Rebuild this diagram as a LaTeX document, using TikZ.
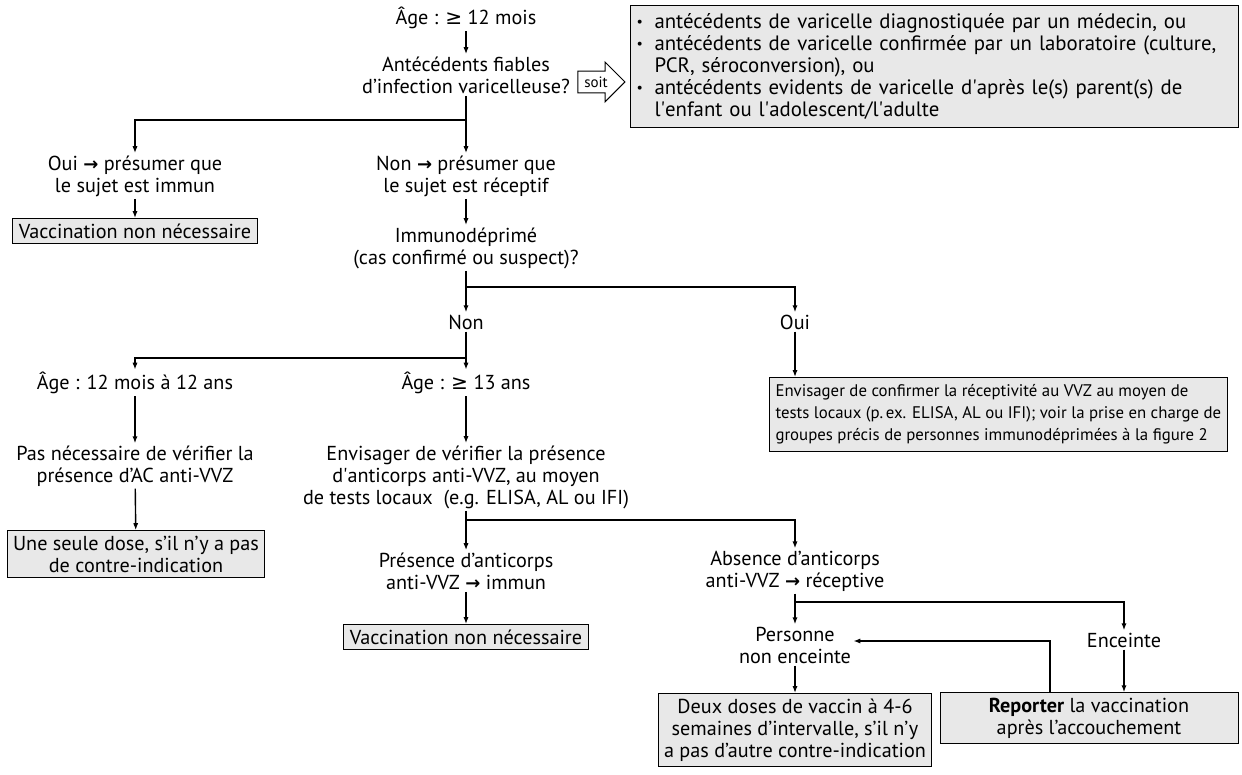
\documentclass[tikz,border=0pt]{standalone}
\usepackage{fontspec}
\setmainfont{PT Sans}
\newfontfamily\symfont{DejaVu Sans}
\usetikzlibrary{arrows.meta,shapes.arrows}
\definecolor{boxgray}{RGB}{232,232,232}
\newcommand{\bul}{\makebox[9pt][l]{\raisebox{0.15ex}{\scriptsize\textbullet}}}
\newcommand{\ra}{{\symfont\bfseries\small→}}

\begin{document}
\begin{tikzpicture}[x=0.5pt,y=-0.5pt]
	\tikzset{txt/.style={align=center,inner sep=1pt,font=\fontsize{10.1}{11}\selectfont}}
	\tikzset{box/.style={txt,draw,fill=boxgray,line width=0.5pt,inner xsep=3pt,inner ysep=2.5pt}}
	\tikzset{line/.style={line width=0.7pt,-{Latex[length=3.5pt,width=2.6pt]}}}
	\useasboundingbox (0,0) rectangle (1242,775);

	% vertices
	\node[txt] (age) at (466,18) {Âge : {\symfont≥} 12 mois};
	\node[txt] (hist) at (466,75) {Antécédents fiables\\d’infection varicelleuse?};
	\node[draw,single arrow,single arrow head extend=4.5pt,minimum height=23.5pt,inner sep=2.5pt,
		line width=0.5pt,font=\fontsize{7.5}{8}\selectfont] (soit) at (596,82) {soit};
	\node[box,anchor=north west,align=left,text width=298pt,minimum height=61pt,
		font=\fontsize{10.4}{11}\selectfont] (crit) at (630,5)
		{\bul antécédents de varicelle diagnostiquée par un médecin, ou\\
		 \bul antécédents de varicelle confirmée par un laboratoire (culture,\\
		 \hspace*{9pt}PCR, séroconversion), ou\\
		 \bul antécédents evidents de varicelle d\textquotesingle après le(s) parent(s) de\\
		 \hspace*{9pt}l\textquotesingle enfant ou l\textquotesingle adolescent/l\textquotesingle adulte};
	\node[txt] (oui1) at (135,176) {Oui \ra{} présumer que\\le sujet est immun};
	\node[txt] (non1) at (466,176) {Non \ra{} présumer que\\le sujet est réceptif};
	\node[box] (vnn1) at (135,231) {Vaccination non nécessaire};
	\node[txt] (immuno) at (466,248) {Immunodéprimé\\(cas confirmé ou suspect)?};
	\node[txt] (non2) at (466,322) {Non};
	\node[txt] (oui2) at (795,322) {Oui};
	\node[txt] (age2) at (135,383) {Âge : 12 mois à 12 ans};
	\node[txt] (age3) at (466,383) {Âge : {\symfont≥} 13 ans};
	\node[box,align=left,anchor=north west,inner ysep=3.5pt,font=\fontsize{8.4}{11}\selectfont] (confirm) at (769,377)
		{Envisager de confirmer la réceptivité au VVZ au moyen de\\
		 tests locaux (p.\,ex. ELISA, AL ou IFI); voir la prise en charge de\\
		 groupes précis de personnes immunodéprimées à la figure 2};
	\node[txt] (pasnec) at (135,466) {Pas nécessaire de vérifier la\\présence d’AC anti-VVZ};
	\node[txt] (envis) at (466,477) {Envisager de vérifier la présence\\d\textquotesingle anticorps anti-VVZ, au moyen\\de tests locaux \ (e.g. ELISA, AL ou IFI)};
	\node[box] (seule) at (136,554) {Une seule dose, s’il n’y a pas\\de contre-indication};
	\node[txt] (pres) at (466,571) {Présence d’anticorps\\anti-VVZ \ra{} immun};
	\node[txt] (abs) at (795,571) {Absence d’anticorps\\anti-VVZ \ra{} réceptive};
	\node[box] (vnn2) at (466,637) {Vaccination non nécessaire};
	\node[txt] (pers) at (795,645) {Personne\\non enceinte};
	\node[txt] (enc) at (1124,640) {Enceinte};
	\node[box,anchor=north] (deux) at (795,693) {Deux doses de vaccin à 4-6\\semaines d’intervalle, s’il n’y\\a pas d’autre contre-indication};
	\node[box,minimum width=149pt] (rep) at (1089,718) {\textbf{Reporter} la vaccination\\après l’accouchement};

	% junctions
	\coordinate (j1) at (466,120);
	\coordinate (j2) at (466,287);
	\coordinate (j3) at (466,358);
	\coordinate (j4) at (466,520);
	\coordinate (j5) at (795,602);
	\coordinate (fb) at (1050,641);

	% edges
	\draw[line] (age) -- (hist);
	\draw[line] (hist) -- (non1);
	\draw[line] (j1) -| (oui1);
	\draw[line] (oui1) -- (vnn1);
	\draw[line] (non1) -- (immuno);
	\draw[line] (immuno) -- (non2);
	\draw[line] (j2) -| (oui2);
	\draw[line] (oui2) -- (oui2 |- confirm.north);
	\draw[line] (non2) -- (age3);
	\draw[line] (j3) -| (age2);
	\draw[line] (age2) -- (pasnec);
	\draw[line] (pasnec) -- (seule);
	\draw[line] (age3) -- (envis);
	\draw[line] (envis) -- (pres);
	\draw[line] (j4) -| (abs);
	\draw[line] (pres) -- (vnn2);
	\draw[line] (abs) -- (pers);
	\draw[line] (j5) -| (enc);
	\draw[line] (pers) -- (deux);
	\draw[line] (enc) -- (enc |- rep.north);
	\draw[line] (rep.north -| fb) -- (fb) -- (fb -| pers.east);
\end{tikzpicture}
\end{document}
